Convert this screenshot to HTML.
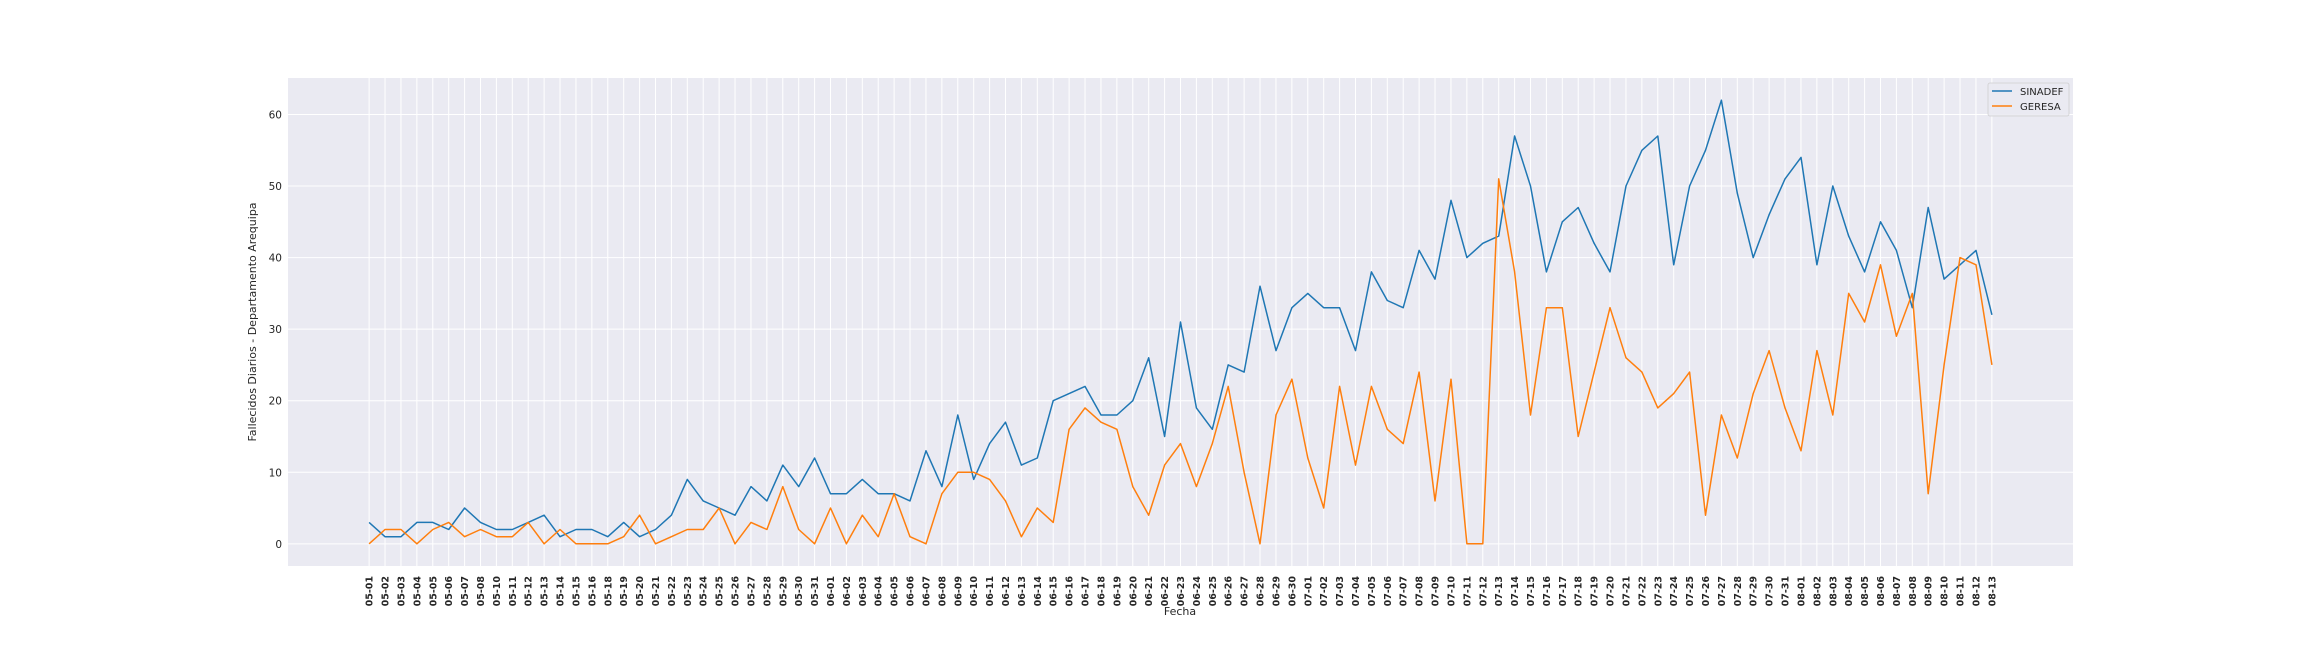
<!DOCTYPE html>
<html><head><meta charset="utf-8"><style>
html,body{margin:0;padding:0;background:#fff;}
svg{display:block;font-family:"DejaVu Sans","Liberation Sans",sans-serif;}
</style></head><body>
<svg id="chart" width="2304" height="648" xmlns="http://www.w3.org/2000/svg">
<rect x="288" y="78" width="1785" height="488" fill="#eaeaf2"/>
<g id="grid"></g><g id="lines"></g><g id="xticks"></g><g id="yticks"></g>
<text x="256" y="322" transform="rotate(-90 256 322)" text-anchor="middle" font-size="11" fill="#262626">Fallecidos Diarios - Departamento Arequipa</text>
<text x="1180" y="615" text-anchor="middle" font-size="11" fill="#262626">Fecha</text>
<g>
<rect x="1988" y="83" width="81" height="33" rx="2" fill="#eaeaf2" stroke="#cccccc" stroke-width="0.8" opacity="0.9"/>
<line x1="1992" y1="91" x2="2012" y2="91" stroke="#1f77b4" stroke-width="1.5"/>
<text x="2020" y="95" font-size="10" fill="#262626">SINADEF</text>
<line x1="1992" y1="106" x2="2012" y2="106" stroke="#ff7f0e" stroke-width="1.5"/>
<text x="2020" y="110" font-size="10" fill="#262626">GERESA</text>
</g>
</svg>
<script>
const categories = ["05-01","05-02","05-03","05-04","05-05","05-06","05-07","05-08","05-10","05-11","05-12","05-13","05-14","05-15","05-16","05-18","05-19","05-20","05-21","05-22","05-23","05-24","05-25","05-26","05-27","05-28","05-29","05-30","05-31",
"06-01","06-02","06-03","06-04","06-05","06-06","06-07","06-08","06-09","06-10","06-11","06-12","06-13","06-14","06-15","06-16","06-17","06-18","06-19","06-20","06-21","06-22","06-23","06-24","06-25","06-26","06-27","06-28","06-29","06-30",
"07-01","07-02","07-03","07-04","07-05","07-06","07-07","07-08","07-09","07-10","07-11","07-12","07-13","07-14","07-15","07-16","07-17","07-18","07-19","07-20","07-21","07-22","07-23","07-24","07-25","07-26","07-27","07-28","07-29","07-30","07-31",
"08-01","08-02","08-03","08-04","08-05","08-06","08-07","08-08","08-09","08-10","08-11","08-12","08-13"];
const sinadef = [3,1,1,3,3,2,5,3,2,2,3,4,1,2,2,1,3,1,2,4,9,6,5,4,8,6,11,8,12,
7,7,9,7,7,6,13,8,18,9,14,17,11,12,20,21,22,18,18,20,26,15,31,19,16,25,24,36,27,33,
35,33,33,27,38,34,33,41,37,48,40,42,43,57,50,38,45,47,42,38,50,55,57,39,50,55,62,49,40,46,51,
54,39,50,43,38,45,41,33,47,37,39,41,32];
const geresa = [0,2,2,0,2,3,1,2,1,1,3,0,2,0,0,0,1,4,0,1,2,2,5,0,3,2,8,2,0,
5,0,4,1,7,1,0,7,10,10,9,6,1,5,3,16,19,17,16,8,4,11,14,8,14,22,10,0,18,23,
12,5,22,11,22,16,14,24,6,23,0,0,51,38,18,33,33,15,24,33,26,24,19,21,24,4,18,12,21,27,19,
13,27,18,35,31,39,29,35,7,25,40,39,25];
const yTicks = [0,10,20,30,40,50,60];

const L=288,R=2073,T=78,B=566;
const xmin=-5.1, xmax=(categories.length-1)+5.1, ymin=-3.1, ymax=65.1;
function xs(i){return L+(i-xmin)/(xmax-xmin)*(R-L);}
function ys(v){return B-(v-ymin)/(ymax-ymin)*(B-T);}
const NS="http://www.w3.org/2000/svg";
function mk(tag,attrs,parent){const e=document.createElementNS(NS,tag);for(const k in attrs)e.setAttribute(k,attrs[k]);parent.appendChild(e);return e;}
const grid=document.getElementById('grid'),xt=document.getElementById('xticks'),yt=document.getElementById('yticks'),ln=document.getElementById('lines');
categories.forEach((c,i)=>{
  const x=xs(i);
  const g=mk('line',{x1:x,x2:x,y1:T,y2:B,stroke:'#fff','stroke-width':1},grid);
  
  
  const t=mk('text',{x:0,y:0,transform:`translate(${x+3.5},576) rotate(-90)`,'text-anchor':'end','font-size':'9.5','font-weight':'bold',fill:'#262626'},xt);
  t.textContent=c;
  
  
});
yTicks.forEach(v=>{
  const y=ys(v);
  const g=mk('line',{x1:L,x2:R,y1:y,y2:y,stroke:'#fff','stroke-width':1},grid);
  
  
  const t=mk('text',{x:L-6,y:y+4,'text-anchor':'end','font-size':'10.5',fill:'#262626'},yt);
  t.textContent=String(v);
  
  
});
function series(vals,color,name){
  const pts=vals.map((v,i)=>xs(i).toFixed(1)+','+ys(v).toFixed(1)).join(' ');
  const p=mk('polyline',{points:pts,fill:'none',stroke:color,'stroke-width':1.5,'stroke-linejoin':'round'},ln);
  
  
}
series(sinadef,'#1f77b4','sinadef-line');
series(geresa,'#ff7f0e','geresa-line');
</script>
</body></html>
